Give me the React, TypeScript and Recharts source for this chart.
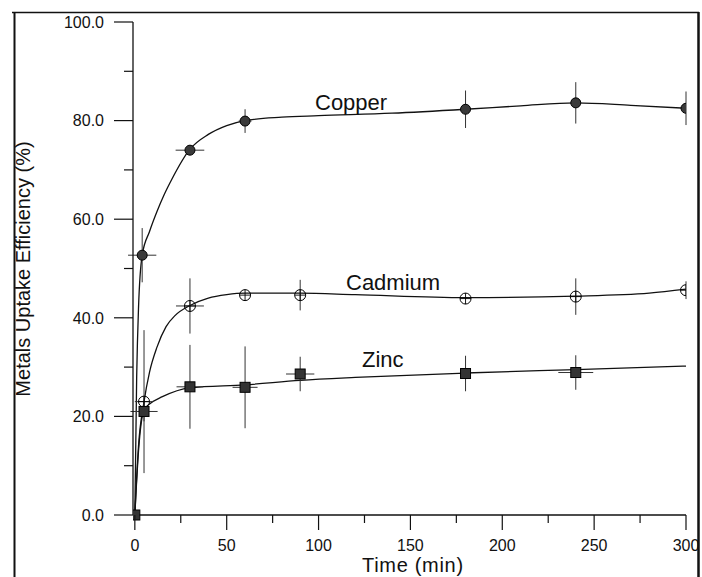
import React from 'react';
import { ComposedChart, Line, Scatter, ErrorBar, XAxis, YAxis } from 'recharts';

const copperTimes = [4, 30, 60, 180, 240, 300];
const copperValues = [52.7, 74.0, 79.9, 82.3, 83.6, 82.5];
const copperYErr = [5.5, 1.0, 2.4, 3.8, 4.2, 3.4];
const copperXErr = [7.7, 7.8, 3.5, 0, 0, 0];

const cadmiumTimes = [5, 30, 60, 90, 180, 240, 300];
const cadmiumValues = [23.0, 42.4, 44.6, 44.6, 43.9, 44.3, 45.6];
const cadmiumYErr = [14.5, 5.6, 0, 3.1, 0, 3.7, 1.8];
const cadmiumXErr = [5, 7.6, 0, 0, 0, 0, 0];

const zincTimes = [0, 5, 30, 60, 90, 180, 240];
const zincValues = [0, 21.0, 26.0, 25.9, 28.6, 28.7, 28.9];
const zincYErr = [0, 2, 8.5, 8.3, 3.5, 3.6, 3.5];
const zincXErr = [0, 7.4, 7.3, 6.8, 7.7, 0, 9.5];

// fitted curves
const copperCurveT = [0, 1, 2, 4, 8, 12, 16, 20, 30, 40, 50, 60, 80, 100, 140, 180, 210, 240, 270, 300];
const copperCurveV = [0, 28, 42, 52.7, 57.5, 61.5, 65, 68, 74.2, 77.2, 79, 80, 80.7, 81, 81.5, 82.3, 83, 83.6, 83.1, 82.5];
const cadmiumCurveT = [0, 2, 5, 8, 12, 17, 22, 30, 40, 50, 60, 90, 120, 180, 240, 280, 300];
const cadmiumCurveV = [0, 14, 23, 29, 34, 38.2, 40.5, 42.5, 44, 44.7, 45, 45, 44.7, 44.1, 44.4, 45, 45.8];
const zincCurveT = [0, 2, 5, 8, 15, 30, 60, 90, 120, 180, 240, 300];
const zincCurveV = [0, 13, 21.3, 22.5, 24, 25.8, 26.4, 27.3, 27.9, 28.8, 29.5, 30.2];

const xTicks = [0, 25, 50, 75, 100, 125, 150, 175, 200, 225, 250, 275, 300];
const yTicks = [0, 10, 20, 30, 40, 50, 60, 70, 80, 90, 100];

const FONT = '"Liberation Sans", Arial, sans-serif';
const INK = '#111';

const points = (ts: number[], vs: number[], ex: number[], ey: number[]) =>
  ts.map((t, i) => ({ t, v: vs[i], ex: ex[i], ey: ey[i] }));
const curve = (ts: number[], vs: number[]) => ts.map((t, i) => ({ t, v: vs[i] }));

const copperPts = points(copperTimes, copperValues, copperXErr, copperYErr);
const cadmiumPts = points(cadmiumTimes, cadmiumValues, cadmiumXErr, cadmiumYErr);
const zincPts = points(zincTimes, zincValues, zincXErr, zincYErr);

function YTick({ x, y, payload }: any) {
  const major = payload.value % 20 === 0;
  return (
    <g>
      <line x1={x - (major ? 19 : 9)} x2={x} y1={y} y2={y} stroke={INK} strokeWidth={1.2} />
      {major && (
        <text x={x - 29} y={y} dy="0.36em" textAnchor="end" fontSize={16} fontFamily={FONT} fill={INK}>
          {payload.value.toFixed(1)}
        </text>
      )}
    </g>
  );
}

function XTick({ x, y, payload }: any) {
  const major = payload.value % 50 === 0;
  return (
    <g>
      <line x1={x} x2={x} y1={y} y2={y + (major ? 15 : 8)} stroke={INK} strokeWidth={1.2} />
      {major && (
        <text x={x} y={y + 36} textAnchor="middle" fontSize={16} fontFamily={FONT} fill={INK}>
          {payload.value}
        </text>
      )}
    </g>
  );
}

const CopperDot = ({ cx, cy }: any) => (
  <circle cx={cx} cy={cy} r={5} fill="#3a3a3a" stroke="#000" strokeWidth={1} />
);

const CadmiumDot = ({ cx, cy }: any) => (
  <g>
    <circle cx={cx} cy={cy} r={5.5} fill="none" stroke="#000" strokeWidth={1} />
    <line x1={cx - 5.5} x2={cx + 5.5} y1={cy} y2={cy} stroke="#000" strokeWidth={0.9} />
    <line x1={cx} x2={cx} y1={cy - 5.5} y2={cy + 5.5} stroke="#000" strokeWidth={0.9} />
  </g>
);

const ZincDot = ({ cx, cy }: any) => (
  <rect x={cx - 5} y={cy - 5} width={10} height={10} fill="#333" stroke="#000" strokeWidth={1} />
);

export default function App() {
  return (
    <div style={{ position: 'absolute', left: 0, top: 0, width: 702, height: 577, background: '#fff' }}>
      <ComposedChart width={702} height={577} margin={{ top: 22, right: 16, bottom: 22, left: 53 }}>
        <XAxis
          type="number"
          dataKey="t"
          domain={[-1, 300]}
          ticks={xTicks}
          interval={0}
          height={40}
          tickSize={0}
          tickMargin={0}
          tick={<XTick />}
          axisLine={{ stroke: INK, strokeWidth: 1.3 }}
          allowDataOverflow
        />
        <YAxis
          type="number"
          dataKey="v"
          domain={[0, 100]}
          ticks={yTicks}
          interval={0}
          width={80}
          tickSize={0}
          tickMargin={0}
          tick={<YTick />}
          axisLine={{ stroke: INK, strokeWidth: 1.3 }}
        />
        <Line data={curve(copperCurveT, copperCurveV)} dataKey="v" type="monotone" dot={false} stroke={INK} strokeWidth={1.3} isAnimationActive={false} />
        <Line data={curve(cadmiumCurveT, cadmiumCurveV)} dataKey="v" type="monotone" dot={false} stroke={INK} strokeWidth={1.3} isAnimationActive={false} />
        <Line data={curve(zincCurveT, zincCurveV)} dataKey="v" type="monotone" dot={false} stroke={INK} strokeWidth={1.3} isAnimationActive={false} />
        <Scatter data={copperPts} dataKey="v" shape={<CopperDot />} isAnimationActive={false}>
          <ErrorBar dataKey="ey" direction="y" width={0} stroke="#333" strokeWidth={1} />
          <ErrorBar dataKey="ex" direction="x" width={0} stroke="#333" strokeWidth={1} />
        </Scatter>
        <Scatter data={cadmiumPts} dataKey="v" shape={<CadmiumDot />} isAnimationActive={false}>
          <ErrorBar dataKey="ey" direction="y" width={0} stroke="#333" strokeWidth={1} />
          <ErrorBar dataKey="ex" direction="x" width={0} stroke="#333" strokeWidth={1} />
        </Scatter>
        <Scatter data={zincPts} dataKey="v" shape={<ZincDot />} isAnimationActive={false}>
          <ErrorBar dataKey="ey" direction="y" width={0} stroke="#333" strokeWidth={1} />
          <ErrorBar dataKey="ex" direction="x" width={0} stroke="#333" strokeWidth={1} />
        </Scatter>
      </ComposedChart>
      <svg width={702} height={577} style={{ position: 'absolute', left: 0, top: 0, pointerEvents: 'none' }}>
        <line x1={12} x2={699} y1={12.5} y2={12.5} stroke={INK} strokeWidth={1.5} />
        <line x1={14.5} x2={14.5} y1={12} y2={577} stroke={INK} strokeWidth={2} />
        <line x1={698.5} x2={698.5} y1={12} y2={577} stroke={INK} strokeWidth={2.5} />
        <g fontFamily={FONT} fill={INK}>
          <text x={315} y={110} fontSize={22}>Copper</text>
          <text x={346} y={290} fontSize={22}>Cadmium</text>
          <text x={362} y={367} fontSize={22}>Zinc</text>
          <text x={362} y={572} fontSize={20} letterSpacing={0.7}>Time (min)</text>
          <text transform="translate(30,269) rotate(-90)" textAnchor="middle" fontSize={20}>
            Metals Uptake Efficiency (%)
          </text>
        </g>
      </svg>
    </div>
  );
}
